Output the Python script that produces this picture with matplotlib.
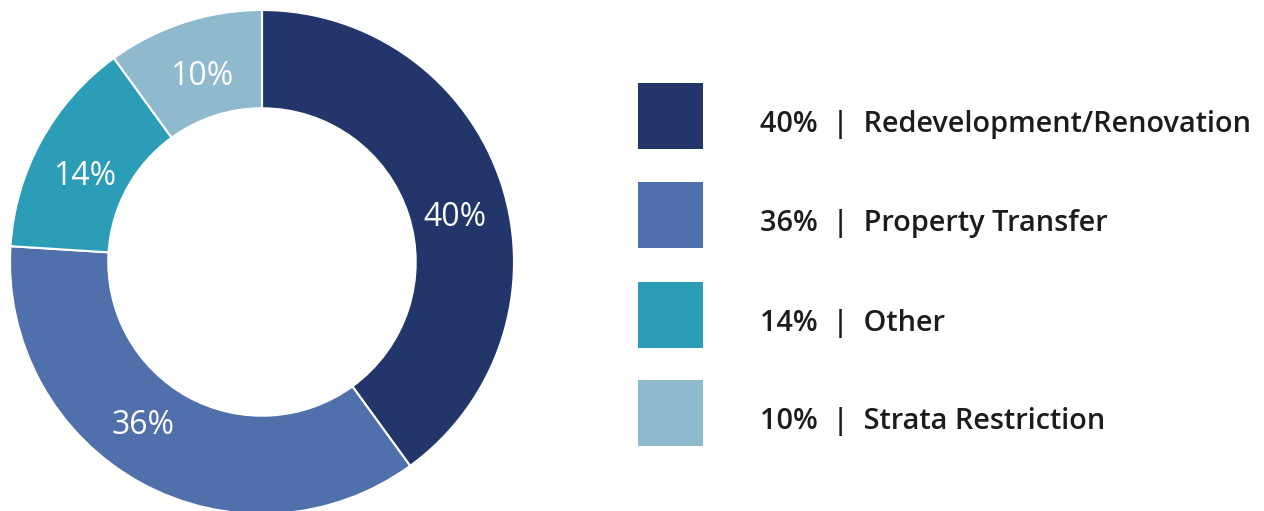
import matplotlib
matplotlib.use("Agg")
import matplotlib.pyplot as plt
from matplotlib.patches import Rectangle
import numpy as np

plt.rcParams['font.family'] = ['Open Sans', 'DejaVu Sans']

categories = ['Redevelopment/Renovation', 'Property Transfer', 'Other', 'Strata Restriction']
shares = [40, 36, 14, 10]
colors = ['#22366b', '#5070ac', '#2c9db7', '#8fbacd']

W, H = 1264, 511
fig = plt.figure(figsize=(W / 100, H / 100), dpi=100)
fig.patch.set_facecolor('white')

# donut, center (262, 262) px from top-left, radius 252 px
cx, cy, r = 262, 262, 252
ax = fig.add_axes([(cx - r) / W, (H - cy - r) / H, 2 * r / W, 2 * r / H])
wedges, texts = ax.pie(
    shares, colors=colors, startangle=90, counterclock=False, radius=1.0,
    wedgeprops=dict(width=0.39, edgecolor='white', linewidth=1.5))
ax.set_xlim(-1, 1)
ax.set_ylim(-1, 1)
ax.set_aspect('equal')
ax.axis('off')

# percent labels inside the ring, nudged along the ring like the original
label_nudge = [-4, -8, 2, -0.5]
for w, s, nd in zip(wedges, shares, label_nudge):
    ang = np.deg2rad((w.theta1 + w.theta2) / 2 + nd)
    ax.text(0.79 * np.cos(ang), 0.79 * np.sin(ang), f'{s}%', color='white',
            fontsize=23, ha='center', va='center_baseline')

# legend drawn in pixel space
lax = fig.add_axes([0, 0, 1, 1])
lax.set_xlim(0, W)
lax.set_ylim(H, 0)
lax.axis('off')
box_tops = [83, 182, 282, 380]
for top, c, cat, s in zip(box_tops, colors, categories, shares):
    lax.add_patch(Rectangle((638, top), 65, 66, facecolor=c, edgecolor='none'))
    lax.text(760, top + 49, f'{s}%  |  {cat}', fontsize=20.8, fontweight='semibold',
             color='#1c1c1c', va='baseline', ha='left')

fig.savefig('out.png', dpi=100, facecolor='white')
